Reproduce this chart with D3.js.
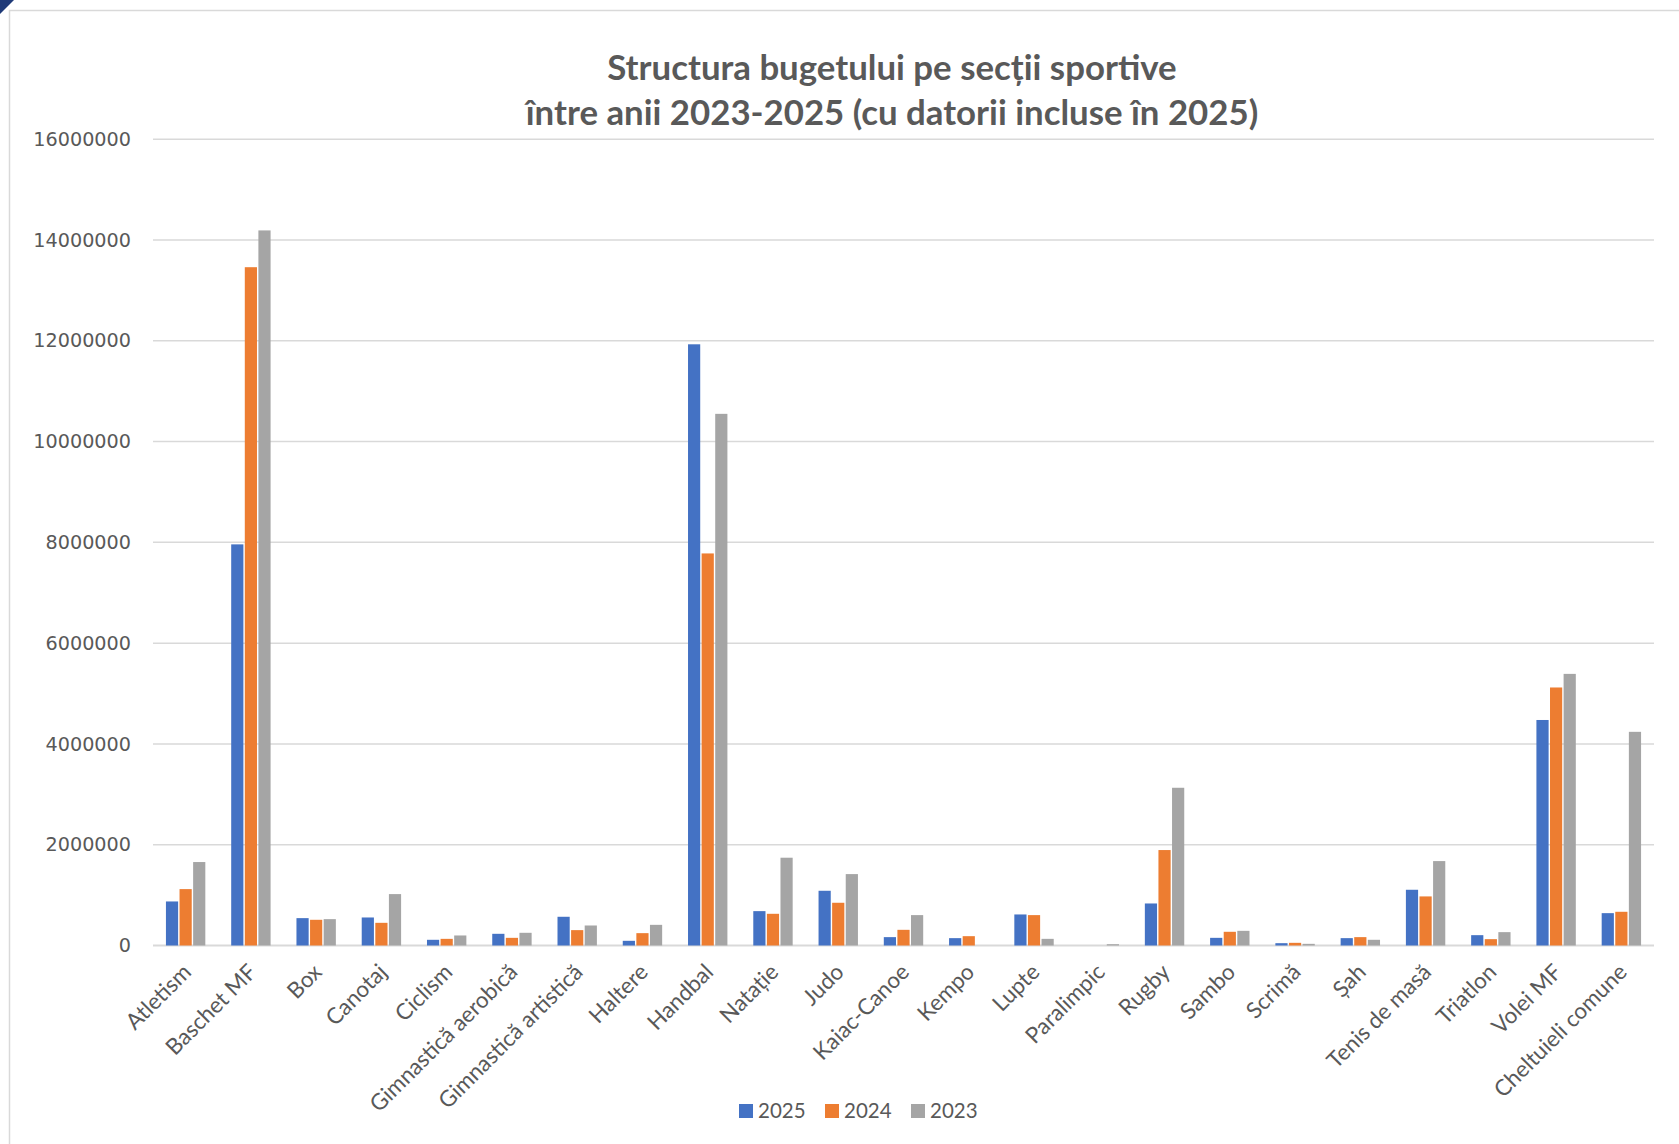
<!DOCTYPE html>
<html>
<head>
<meta charset="utf-8">
<script src="https://cdn.jsdelivr.net/npm/d3@7"></script>
<style>
  body { margin: 0; background: #fff; }
  svg { display: block; }
</style>
</head>
<body>
<svg id="chart" width="1679" height="1144"></svg>
<script>
// categories and values
var categories = ["Atletism", "Baschet MF", "Box", "Canotaj", "Ciclism", "Gimnastică aerobică",
  "Gimnastică artistică", "Haltere", "Handbal", "Natație", "Judo", "Kaiac-Canoe", "Kempo",
  "Lupte", "Paralimpic", "Rugby", "Sambo", "Scrimă", "Șah", "Tenis de masă", "Triatlon",
  "Volei MF", "Cheltuieli comune"];

var years = ["2025", "2024", "2023"];

var v2025 = [874000, 7960000, 543000, 556000, 113000, 232000, 570000, 93000, 11930000, 682000,
  1086000, 166000, 146000, 616000, 0, 834000, 152000, 46000, 146000, 1106000, 205000, 4475000, 642000];
var v2024 = [1119000, 13460000, 510000, 450000, 132000, 152000, 305000, 245000, 7780000, 629000,
  848000, 311000, 185000, 603000, 0, 1894000, 272000, 53000, 166000, 974000, 126000, 5120000, 669000];
var v2023 = [1656000, 14190000, 523000, 1020000, 199000, 252000, 397000, 410000, 10550000, 1742000,
  1417000, 603000, 0, 132000, 26000, 3130000, 291000, 33000, 113000, 1675000, 265000, 5390000, 4240000];

var yTicks = [0, 2000000, 4000000, 6000000, 8000000, 10000000, 12000000, 14000000, 16000000];
var colors = ["#4472C4", "#ED7D31", "#A5A5A5"];

var series = [v2025, v2024, v2023];
var rows = categories.map(function(c, i) {
  return {cat: c, vals: years.map(function(y, j) { return {year: y, v: series[j][i]}; })};
});

var svg = d3.select("#chart");

// frame and corner
svg.append("path").attr("d", "M0,0 L14,0 L0,14 Z").attr("fill", "#1f3a78");
svg.append("path").attr("d", "M9.5,1144 L9.5,10.5 L1679,10.5")
  .attr("fill", "none").attr("stroke", "#d9d9d9").attr("stroke-width", 1.5);

var x = d3.scaleBand().domain(categories).range([153, 1654]).paddingInner(0.375).paddingOuter(0.1875);
var xs = d3.scaleBand().domain(years).range([0, x.bandwidth()]);
var y = d3.scaleLinear().domain([0, 16000000]).range([945.5, 139.2]);

// gridlines
svg.append("g").selectAll("line").data(yTicks).enter().append("line")
  .attr("x1", 153).attr("x2", 1654)
  .attr("y1", function(d) { return y(d); })
  .attr("y2", function(d) { return y(d); })
  .attr("stroke", "#d9d9d9").attr("stroke-width", function(d) { return d === 0 ? 2 : 1.5; });

// y axis labels
var yAxis = svg.append("g").attr("transform", "translate(131,0)")
  .call(d3.axisLeft(y).tickValues(yTicks).tickSize(0).tickPadding(0).tickFormat(d3.format("d")));
yAxis.select(".domain").remove();
yAxis.selectAll("text")
  .attr("font-family", "DejaVu Sans").attr("font-size", 19.2).attr("fill", "#595959");

// bars
var g = svg.append("g").selectAll("g").data(rows).enter().append("g")
  .attr("transform", function(d) { return "translate(" + x(d.cat) + ",0)"; });
g.selectAll("rect").data(function(d) { return d.vals; }).enter().append("rect")
  .attr("x", function(d) { return xs(d.year) + 0.7; })
  .attr("width", xs.bandwidth() - 1.4)
  .attr("y", function(d) { return y(d.v); })
  .attr("height", function(d) { return y(0) - y(d.v); })
  .attr("fill", function(d, i) { return colors[i]; });

// x labels
var xAxis = svg.append("g").attr("transform", "translate(0,945.5)")
  .call(d3.axisBottom(x).tickSize(0).tickPadding(0));
xAxis.select(".domain").remove();
xAxis.selectAll("text")
  .attr("font-family", "Lato").attr("font-size", 22.4).attr("fill", "#595959")
  .attr("text-anchor", "end").attr("dy", null)
  .attr("transform", "translate(7,28) rotate(-45)");

// title
var title = svg.append("text").attr("text-anchor", "middle")
  .attr("font-family", "Lato").attr("font-weight", "bold").attr("font-size", 34.8).attr("fill", "#595959");
title.append("tspan").attr("x", 892).attr("y", 80).text("Structura bugetului pe secții sportive");
title.append("tspan").attr("x", 892).attr("y", 125).text("între anii 2023-2025 (cu datorii incluse în 2025)");

// legend
var legX = [739, 825, 911];
var leg = svg.append("g").selectAll("g").data(years).enter().append("g")
  .attr("transform", function(d, i) { return "translate(" + legX[i] + ",1104)"; });
leg.append("rect").attr("width", 14).attr("height", 14).attr("fill", function(d, i) { return colors[i]; });
leg.append("text").attr("x", 19).attr("y", 14).text(function(d) { return d; })
  .attr("font-family", "Lato").attr("font-size", 20.5).attr("fill", "#595959");
</script>
</body>
</html>
